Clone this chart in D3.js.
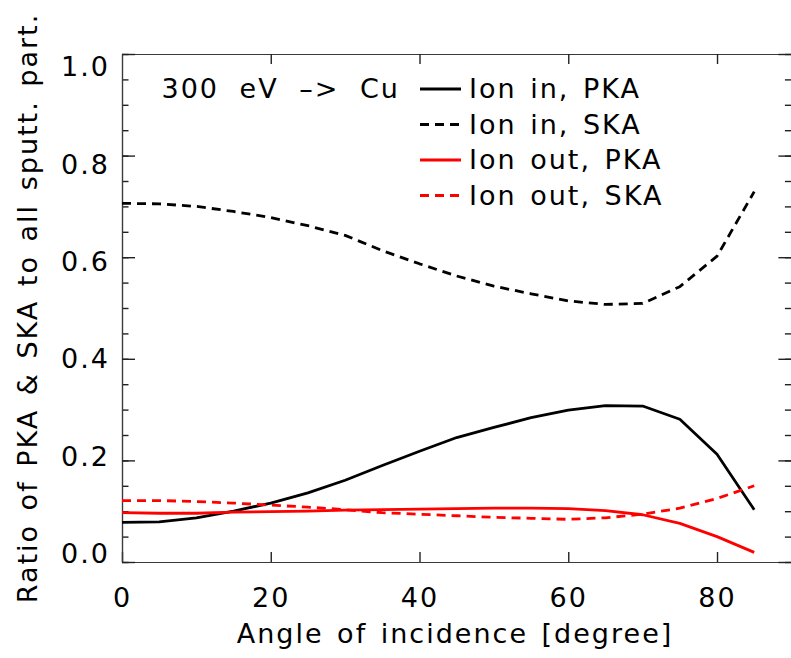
<!DOCTYPE html>
<html>
<head>
<meta charset="utf-8">
<script src="https://cdn.jsdelivr.net/npm/d3@7"></script>
<style>
  html, body { margin: 0; padding: 0; background: #fff; }
  svg { display: block; }
  text { font-family: "DejaVu Sans", sans-serif; font-size: 27px; fill: #000; letter-spacing: 2px; word-spacing: 3px; }
</style>
</head>
<body>
<svg id="chart" width="791" height="658"></svg>
<script>
// Angle of incidence (degrees) and the four ratio series
const angles = [0, 5, 10, 15, 20, 25, 30, 35, 40, 45, 50, 55, 60, 65, 70, 75, 80, 85];
const ionInPKA  = [0.078, 0.079, 0.087, 0.100, 0.116, 0.136, 0.161, 0.190, 0.218, 0.245, 0.265, 0.284, 0.299, 0.308, 0.307, 0.281, 0.212, 0.103];
const ionInSKA  = [0.706, 0.705, 0.700, 0.690, 0.678, 0.662, 0.643, 0.613, 0.587, 0.563, 0.543, 0.528, 0.514, 0.507, 0.509, 0.542, 0.602, 0.729];
const ionOutPKA = [0.097, 0.096, 0.096, 0.098, 0.099, 0.100, 0.102, 0.103, 0.104, 0.105, 0.106, 0.106, 0.105, 0.101, 0.093, 0.076, 0.050, 0.019];
const ionOutSKA = [0.121, 0.121, 0.119, 0.116, 0.112, 0.108, 0.103, 0.097, 0.094, 0.091, 0.088, 0.086, 0.084, 0.087, 0.094, 0.106, 0.125, 0.150];

const seriesNames = ["Ion in, PKA", "Ion in, SKA", "Ion out, PKA", "Ion out, SKA"];
const xTicks = [0, 20, 40, 60, 80];
const yTicks = [0.0, 0.2, 0.4, 0.6, 0.8, 1.0];
const yMinorTicks = d3.range(0, 1.0001, 0.05).map(v => +v.toFixed(2));
const annotation = "300 eV \u2013> Cu";
const xTitle = "Angle of incidence [degree]";
const yTitle = "Ratio of PKA & SKA to all sputt. part.";

const svg = d3.select("#chart");
const frame = { left: 122, top: 54, right: 791.4, bottom: 562 };

const x = d3.scaleLinear().domain([0, 90]).range([frame.left, frame.right]);
const y = d3.scaleLinear().domain([0, 1]).range([frame.bottom, frame.top]);
// edge labels sit inside the frame
const yLabel = d3.scaleLinear().domain([0, 1]).range([553, 66]);

const axisColor = "#3a3a3a";

function styleAxis(g) {
  g.select(".domain").attr("stroke", axisColor).attr("stroke-width", 1.2);
  g.selectAll(".tick line").attr("stroke", "#222").attr("stroke-width", 1.4);
}

// bottom axis with labels
svg.append("g")
  .attr("transform", `translate(0,${frame.bottom})`)
  .call(d3.axisBottom(x).tickValues(xTicks).tickFormat(d3.format("d")).tickSizeInner(-10).tickSizeOuter(0).tickPadding(16))
  .call(styleAxis)
  .call(g => g.selectAll("text").attr("dy", null).attr("y", 45).style("font-size", "27px").style("font-family", "DejaVu Sans").attr("fill", "#000"));

// top axis, ticks only
svg.append("g")
  .attr("transform", `translate(0,${frame.top})`)
  .call(d3.axisTop(x).tickValues(xTicks.filter(v => v > 0)).tickFormat("").tickSizeInner(-10).tickSizeOuter(0))
  .call(styleAxis);

// left axis: minor ticks
svg.append("g")
  .attr("transform", `translate(${frame.left},0)`)
  .call(d3.axisLeft(y).tickValues(yMinorTicks).tickFormat("").tickSizeInner(-6.5).tickSizeOuter(0))
  .call(styleAxis);

// left axis: major ticks with labels
svg.append("g")
  .attr("transform", `translate(${frame.left},0)`)
  .call(d3.axisLeft(y).tickValues(yTicks).tickFormat(d3.format(".1f")).tickSizeInner(-13).tickSizeOuter(0).tickPadding(12))
  .call(styleAxis)
  .call(g => g.selectAll("text")
    .attr("dy", "0.36em")
    .attr("y", d => yLabel(d) - y(d))
    .style("font-size", "27px").style("font-family", "DejaVu Sans").attr("fill", "#000"));

// right axis, ticks only
svg.append("g")
  .attr("transform", `translate(${frame.right},0)`)
  .call(d3.axisRight(y).tickValues(yMinorTicks).tickFormat("").tickSizeInner(-6.5).tickSizeOuter(0))
  .call(styleAxis);
svg.append("g")
  .attr("transform", `translate(${frame.right},0)`)
  .call(d3.axisRight(y).tickValues(yTicks).tickFormat("").tickSizeInner(-13).tickSizeOuter(0))
  .call(styleAxis);

// curves
const series = [
  { name: seriesNames[0], values: ionInPKA,  color: "#000000", dash: null },
  { name: seriesNames[1], values: ionInSKA,  color: "#000000", dash: "9,6" },
  { name: seriesNames[2], values: ionOutPKA, color: "#ff0000", dash: null },
  { name: seriesNames[3], values: ionOutSKA, color: "#ff0000", dash: "9,6" }
];

const line = d3.line()
  .x((d, i) => x(angles[i]))
  .y(d => y(d));

svg.append("g").selectAll("path")
  .data(series)
  .join("path")
  .attr("d", s => line(s.values))
  .attr("fill", "none")
  .attr("stroke", s => s.color)
  .attr("stroke-width", 2.8)
  .attr("stroke-dasharray", s => s.dash)
  .attr("stroke-linejoin", "round");

// annotation
svg.append("text")
  .attr("x", 161.5)
  .attr("y", 98)
  .style("word-spacing", "10px")
  .text(annotation);

// legend
const legend = svg.append("g");
const rows = legend.selectAll("g")
  .data(series)
  .join("g")
  .attr("transform", (d, i) => `translate(0,${89 + i * 35.5})`);
rows.append("line")
  .attr("x1", 420).attr("x2", 461)
  .attr("y1", 0).attr("y2", 0)
  .attr("stroke", d => d.color)
  .attr("stroke-width", 2.8)
  .attr("stroke-dasharray", d => d.dash);
rows.append("text")
  .attr("x", 469)
  .attr("y", 9)
  .text(d => d.name);

// axis titles
svg.append("text")
  .attr("x", 455)
  .attr("y", 643)
  .attr("text-anchor", "middle")
  .text(xTitle);

svg.append("text")
  .attr("transform", `translate(37,${(frame.top + frame.bottom) / 2}) rotate(-90)`)
  .attr("text-anchor", "middle")
  .text(yTitle);
</script>
</body>
</html>
